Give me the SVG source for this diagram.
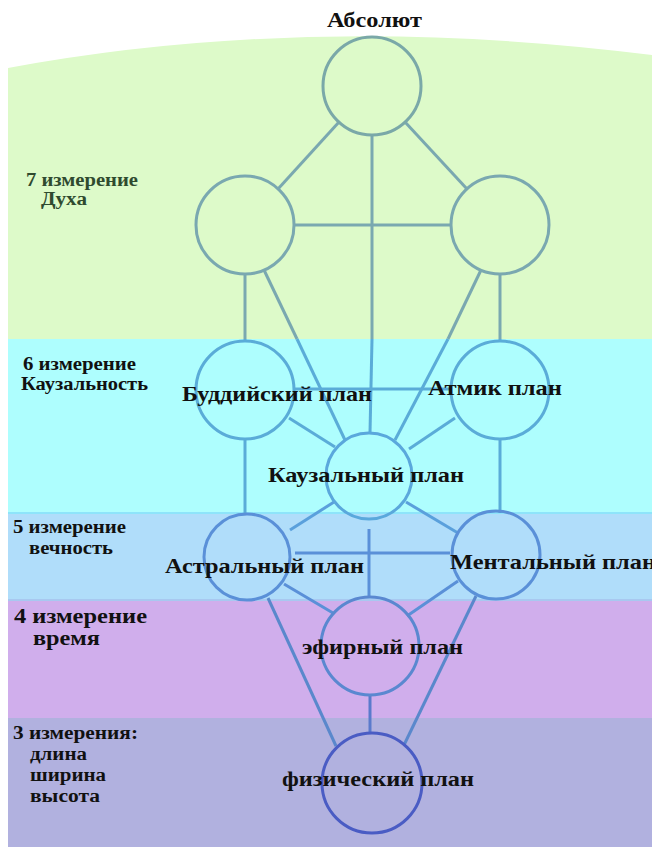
<svg xmlns="http://www.w3.org/2000/svg" width="652" height="847" viewBox="0 0 652 847">
<style>
.t{font-family:"Liberation Serif","Times New Roman",serif;font-weight:bold;font-size:21px;fill:#111}
.d{font-family:"Liberation Serif","Times New Roman",serif;font-weight:bold;font-size:18px;fill:#111}
.g{fill:#2f4a2f}
.n{fill:none;stroke-width:3}
.c line{stroke-width:3}
</style>
<rect width="652" height="847" fill="#ffffff"/>
<g id="bands">
<path d="M8,68 Q310,12 652,55 L652,339 L8,339 Z" fill="#ddfac9"/>
<rect x="8" y="339" width="644" height="174" fill="#aefefe"/>
<rect x="8" y="513" width="644" height="87" fill="#b0ddfa"/>
<line x1="8" y1="513" x2="652" y2="513" stroke="#8ee4fa" stroke-width="2"/>
<rect x="8" y="600" width="644" height="118" fill="#d0aeec"/>
<line x1="8" y1="600" x2="652" y2="600" stroke="#a8c8f0" stroke-width="2"/>
<rect x="8" y="718" width="644" height="129" fill="#b1b1df"/>
</g>
<g id="connectors" class="c">
<line x1="339" y1="122" x2="278" y2="189" stroke="#7aa8b0"/>
<line x1="405" y1="122" x2="467" y2="189" stroke="#7aa8b0"/>
<line x1="372" y1="135" x2="372" y2="339" stroke="#7aa8b0"/>
<line x1="372" y1="339" x2="370" y2="433" stroke="#5aacd8"/>
<line x1="294" y1="225" x2="451" y2="225" stroke="#7aa8b0"/>
<line x1="245" y1="274" x2="245" y2="339" stroke="#7aa8b0"/>
<line x1="245" y1="339" x2="245" y2="341" stroke="#5aacd8"/>
<line x1="500" y1="274" x2="500" y2="339" stroke="#7aa8b0"/>
<line x1="500" y1="339" x2="500" y2="341" stroke="#5aacd8"/>
<line x1="264" y1="270" x2="297" y2="339" stroke="#7aa8b0"/>
<line x1="297" y1="339" x2="345" y2="440" stroke="#5aacd8"/>
<line x1="481" y1="270" x2="448" y2="339" stroke="#7aa8b0"/>
<line x1="448" y1="339" x2="395" y2="440" stroke="#5aacd8"/>
<line x1="294" y1="389" x2="451" y2="389" stroke="#5aacd8"/>
<line x1="289" y1="418" x2="335" y2="447" stroke="#5aacd8"/>
<line x1="455" y1="418" x2="409" y2="449" stroke="#5aacd8"/>
<line x1="245" y1="439" x2="245" y2="513" stroke="#5aacd8"/>
<line x1="500" y1="439" x2="500" y2="513" stroke="#5aacd8"/>
<line x1="334" y1="502" x2="290" y2="530" stroke="#5aa0dc"/>
<line x1="406" y1="502" x2="458" y2="533" stroke="#5aa0dc"/>
<line x1="369" y1="529" x2="369" y2="597" stroke="#5a90d8"/>
<line x1="295" y1="553" x2="450" y2="553" stroke="#5a90d8"/>
<line x1="284" y1="584" x2="333" y2="613" stroke="#5a90d8"/>
<line x1="458" y1="581" x2="407" y2="616" stroke="#5a90d8"/>
<line x1="268" y1="598" x2="336" y2="746" stroke="#5a88cc"/>
<line x1="476" y1="596" x2="404" y2="745" stroke="#5a88cc"/>
<line x1="370" y1="695" x2="370" y2="734" stroke="#5a7acc"/>
</g>
<g id="n-absolut"><circle class="n" cx="372" cy="86" r="49" stroke="#7aa8a8"/><text class="t" x="327" y="27" textLength="95" lengthAdjust="spacingAndGlyphs">Абсолют</text></g>
<g id="n-left7"><circle class="n" cx="245" cy="225" r="49" stroke="#7aa8b0"/></g>
<g id="n-right7"><circle class="n" cx="500" cy="225" r="49" stroke="#7aa8b0"/></g>
<g id="n-buddhic"><circle class="n" cx="245" cy="390" r="49" stroke="#5aacd8"/><text class="t" x="182" y="401" textLength="190" lengthAdjust="spacingAndGlyphs">Буддийский план</text></g>
<g id="n-atmic"><circle class="n" cx="500" cy="390" r="49" stroke="#5aacd8"/><text class="t" x="428" y="395" textLength="134" lengthAdjust="spacingAndGlyphs">Атмик план</text></g>
<g id="n-causal"><circle class="n" cx="369" cy="476" r="43" stroke="#5aa8dc"/><text class="t" x="268" y="482" textLength="196" lengthAdjust="spacingAndGlyphs">Каузальный план</text></g>
<g id="n-astral"><circle class="n" cx="247" cy="557" r="43" stroke="#5a90d8"/><text class="t" x="165" y="573" textLength="199" lengthAdjust="spacingAndGlyphs">Астральный план</text></g>
<g id="n-mental"><circle class="n" cx="496" cy="555" r="44" stroke="#5a90d8"/><text class="t" x="450" y="569" textLength="206" lengthAdjust="spacingAndGlyphs">Ментальный план</text></g>
<g id="n-etheric"><circle class="n" cx="370" cy="646" r="49" stroke="#5a88d0"/><text class="t" x="302" y="654" textLength="161" lengthAdjust="spacingAndGlyphs">эфирный план</text></g>
<g id="n-physical"><circle class="n" cx="372" cy="783" r="50" stroke="#4a5cc4"/><text class="t" x="282" y="786" textLength="192" lengthAdjust="spacingAndGlyphs">физический план</text></g>
<g id="labels">
<text class="d g" x="26" y="186" textLength="112" lengthAdjust="spacingAndGlyphs">7 измерение</text>
<text class="d g" x="41" y="205" textLength="46" lengthAdjust="spacingAndGlyphs">Духа</text>
<text class="d" x="23" y="370" textLength="113" lengthAdjust="spacingAndGlyphs">6 измерение</text>
<text class="d" x="21" y="390" textLength="127" lengthAdjust="spacingAndGlyphs">Каузальность</text>
<text class="d" x="13" y="533" textLength="113" lengthAdjust="spacingAndGlyphs">5 измерение</text>
<text class="d" x="29" y="554" textLength="84" lengthAdjust="spacingAndGlyphs">вечность</text>
<text class="d" x="14" y="623" style="font-size:20px" textLength="133" lengthAdjust="spacingAndGlyphs">4 измерение</text>
<text class="d" x="33" y="645" style="font-size:20px" textLength="67" lengthAdjust="spacingAndGlyphs">время</text>
<text class="d" x="13" y="739" textLength="125" lengthAdjust="spacingAndGlyphs">3 измерения:</text>
<text class="d" x="30" y="760" textLength="57" lengthAdjust="spacingAndGlyphs">длина</text>
<text class="d" x="30" y="781" textLength="76" lengthAdjust="spacingAndGlyphs">ширина</text>
<text class="d" x="30" y="802" textLength="70" lengthAdjust="spacingAndGlyphs">высота</text>
</g>
</svg>
